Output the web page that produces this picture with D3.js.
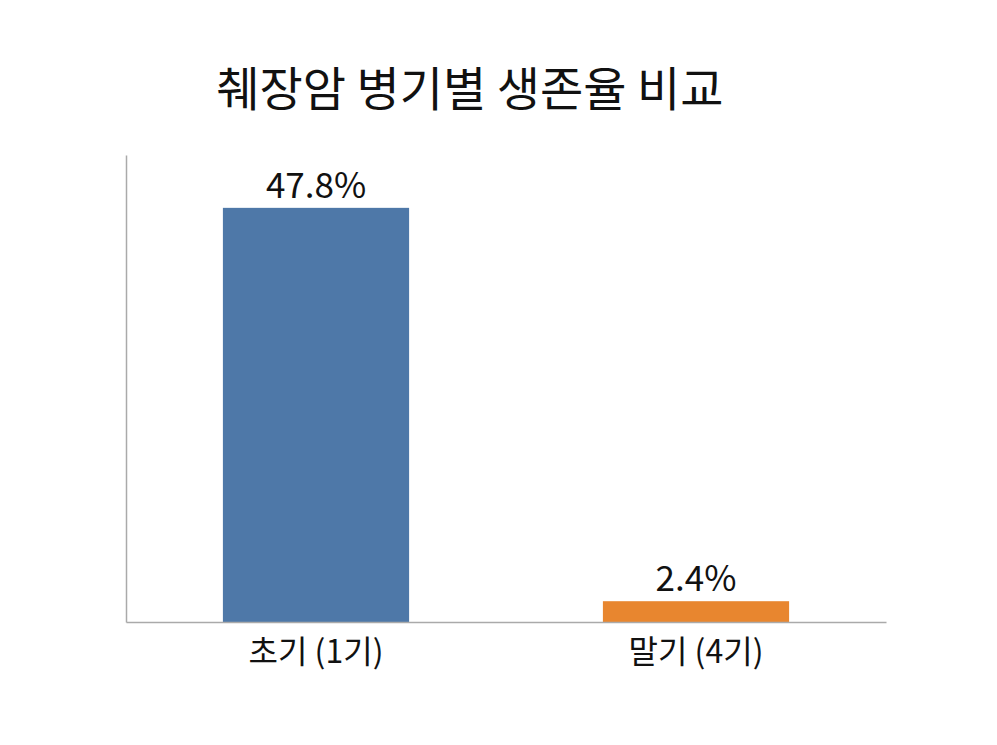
<!DOCTYPE html>
<html>
<head>
<meta charset="utf-8">
<script src="https://cdn.jsdelivr.net/npm/d3@7"></script>
<style>
  body { margin: 0; background: #fff; }
  text { font-family: "Noto Sans CJK KR", "Noto Sans", sans-serif; fill: #111; }
</style>
</head>
<body>
<svg id="chart" width="997" height="745"></svg>
<script>
const title = '췌장암 병기별 생존율 비교';
const stages = ['초기 (1기)', '말기 (4기)'];
const rates = [47.8, 2.4];
const colors = ['#4e78a8', '#e8862f'];

const svg = d3.select('#chart');
const plotLeft = 126, plotRight = 886, plotTop = 155, plotBottom = 622;

// band layout like office charts: outer gap = half of inner gap
const x = d3.scaleBand()
    .domain(stages)
    .range([plotLeft, plotRight])
    .paddingInner(0.51)
    .paddingOuter(0.255);

const y = d3.scaleLinear()
    .domain([0, 53.9])
    .range([plotBottom, plotTop]);

svg.append('text')
    .attr('x', 470)
    .attr('y', 106)
    .attr('text-anchor', 'middle')
    .attr('font-size', 47)
    .text(title);

// bars
svg.selectAll('rect.bar')
    .data(rates)
    .enter()
    .append('rect')
    .attr('class', 'bar')
    .attr('x', (d, i) => x(stages[i]))
    .attr('width', x.bandwidth())
    .attr('y', d => y(d))
    .attr('height', d => y(0) - y(d))
    .attr('fill', (d, i) => colors[i]);

// value labels
svg.selectAll('text.val')
    .data(rates)
    .enter()
    .append('text')
    .attr('class', 'val')
    .attr('x', (d, i) => x(stages[i]) + x.bandwidth() / 2)
    .attr('y', d => y(d) - 10)
    .attr('text-anchor', 'middle')
    .attr('font-size', 35)
    .text(d => d + '%');

// axes lines
const yAxis = svg.append('g')
    .attr('transform', `translate(${plotLeft},0)`)
    .call(d3.axisLeft(y).tickValues([]).tickSizeOuter(0));
yAxis.select('.domain').attr('stroke', '#aaa').attr('stroke-width', 1.5);

const xAxis = svg.append('g')
    .attr('transform', `translate(0,${plotBottom})`)
    .call(d3.axisBottom(x).tickSize(0).tickPadding(18));
xAxis.select('.domain').attr('stroke', '#aaa').attr('stroke-width', 1.5);
xAxis.selectAll('text')
    .attr('font-size', 32)
    .attr('dy', '0.71em')
    .style('font-family', '"Noto Sans CJK KR", sans-serif')
    .attr('fill', '#111');
</script>
</body>
</html>
